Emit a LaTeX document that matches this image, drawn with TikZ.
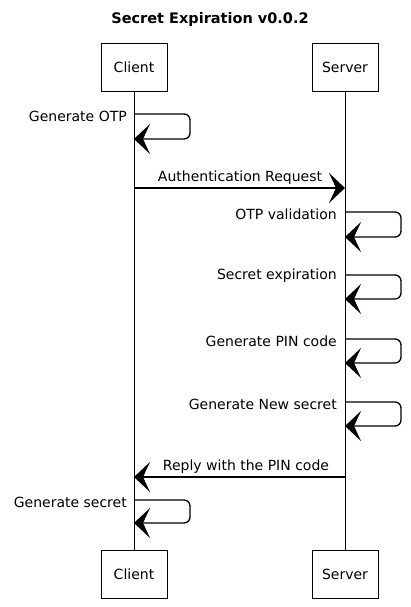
\documentclass[tikz,border=0pt]{standalone}
\usepackage{fontspec}
\setmainfont{DejaVu Sans}
\usetikzlibrary{arrows.meta}
\begin{document}
\begin{tikzpicture}[x=1pt,y=-1pt,
  actor/.style={draw, line width=0.9pt, minimum width=66pt, minimum height=48pt, inner sep=0pt, font=\fontsize{14}{16}\selectfont},
  life/.style={line width=0.8pt},
  msg/.style={line width=1.3pt, -{Stealth[length=16pt,width=30pt,inset=7pt]}},
  loop/.style={msg, rounded corners=6pt},
  lbl/.style={font=\fontsize{14}{16}\selectfont, inner sep=1pt},
  ]
\useasboundingbox (0,0) rectangle (411,607);
\node[font=\bfseries\fontsize{14.5}{17}\selectfont] (title) at (210,20) {Secret Expiration v0.0.2};
\node[actor] (ct) at (134,67) {Client};
\node[actor] (st) at (345,67) {Server};
\node[actor] (cb) at (134,574) {Client};
\node[actor] (sb) at (345,574) {Server};
\draw[life] (ct.south) -- (cb.north);
\draw[life] (st.south) -- (sb.north);

% Generate OTP
\coordinate (c1a) at (134,114); \coordinate (c1b) at (134,139);
\draw[loop] (c1a) -- (190,114) -- (190,139) -- (c1b);
\node[lbl, anchor=south east] (l1) at (128,123) {Generate OTP};

% Authentication Request
\coordinate (c2a) at (134,188); \coordinate (s2a) at (345,188);
\draw[msg] (c2a) -- (s2a);
\node[lbl, anchor=south] (l2) at (240,186) {Authentication Request};

% OTP validation
\coordinate (s3a) at (345,212); \coordinate (s3b) at (345,237);
\draw[loop] (s3a) -- (401,212) -- (401,237) -- (s3b);
\node[lbl, anchor=south east] (l3) at (338,221) {OTP validation};

% Secret expiration
\coordinate (s4a) at (345,275); \coordinate (s4b) at (345,299);
\draw[loop] (s4a) -- (401,275) -- (401,299) -- (s4b);
\node[lbl, anchor=south east] (l4) at (338,284) {Secret expiration};

% Generate PIN code
\coordinate (s5a) at (345,339); \coordinate (s5b) at (345,363);
\draw[loop] (s5a) -- (401,339) -- (401,363) -- (s5b);
\node[lbl, anchor=south east] (l5) at (338,348) {Generate PIN code};

% Generate New secret
\coordinate (s6a) at (345,402); \coordinate (s6b) at (345,426);
\draw[loop] (s6a) -- (401,402) -- (401,426) -- (s6b);
\node[lbl, anchor=south east] (l6) at (338,411) {Generate New secret};

% Reply
\coordinate (s7a) at (345,477); \coordinate (c7a) at (134,477);
\draw[msg] (s7a) -- (c7a);
\node[lbl, anchor=south] (l7) at (246,475) {Reply with the PIN code};

% Generate secret
\coordinate (c8a) at (134,500); \coordinate (c8b) at (134,523);
\draw[loop] (c8a) -- (190,500) -- (190,523) -- (c8b);
\node[lbl, anchor=south east] (l8) at (128,509) {Generate secret};
\end{tikzpicture}
\end{document}
